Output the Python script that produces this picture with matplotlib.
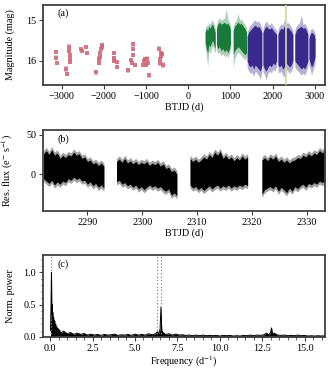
import numpy as np
import matplotlib
matplotlib.use("Agg")
import matplotlib.pyplot as plt
from matplotlib.ticker import AutoMinorLocator, MultipleLocator

plt.rcParams['font.family'] = ['Liberation Serif', 'DejaVu Serif']
plt.rcParams['mathtext.fontset'] = 'stix'
plt.rcParams['font.size'] = 7.3

# --- DATA ---
# (a) sparse archival photometry (BTJD, mag, err)
red_t = [-3130, -3125, -3120, -2885, -2875, -2825, -2818, -2812, -2806, -2800,
         -2530, -2520, -2415, -2405, -2195, -2120, -2110, -2100, -2080, -2060,
         -2045, -2035, -1765, -1758, -1752, -1685, -1680, -1420, -1350, -1330,
         -1315, -1305, -1300, -1270, -1060, -1045, -1025, -1000, -965, -945,
         -925, -685, -672, -660, -648, -635, -620, -608]
red_mag = [15.78, 15.92, 16.05, 16.2, 16.32, 15.65, 15.75, 15.85, 15.95, 16.02,
           15.7, 15.75, 15.66, 15.8, 16.28, 15.95, 16.05, 15.9, 15.8, 15.7,
           15.65, 15.6, 15.8, 15.92, 16.0, 16.02, 16.15, 16.23, 15.98, 16.05,
           15.58, 15.7, 15.85, 16.1, 16.1, 16.0, 15.95, 16.1, 15.95, 16.05,
           16.35, 15.7, 15.95, 16.05, 15.8, 15.88, 15.82, 16.1]
red_err = [0.05, 0.06, 0.05, 0.07, 0.06, 0.06, 0.05, 0.05, 0.06, 0.05,
           0.05, 0.05, 0.06, 0.05, 0.06, 0.06, 0.05, 0.05, 0.05, 0.05,
           0.05, 0.05, 0.05, 0.05, 0.06, 0.05, 0.06, 0.06, 0.05, 0.06,
           0.05, 0.06, 0.05, 0.06, 0.06, 0.05, 0.05, 0.06, 0.06, 0.05,
           0.06, 0.06, 0.05, 0.07, 0.05, 0.06, 0.05, 0.07]

# (a) dense survey seasons, read as envelopes: core range (lo/hi), full range (elo/ehi)
green_t = [[400, 430, 460, 490, 520, 550, 580, 610, 640],
           [670, 700, 740, 780, 820, 860, 900, 940, 980, 1000],
           [1065, 1100, 1140, 1180, 1220, 1260, 1300, 1340, 1380]]
green_lo = [[15.3, 15.2, 15.25, 15.15, 15.2, 15.12, 15.1, 15.2, 15.3],
            [15.2, 15.1, 15.05, 15.1, 15.08, 15.05, 15.1, 15.08, 15.15, 15.25],
            [15.25, 15.15, 15.1, 15.05, 15.1, 15.08, 15.15, 15.2, 15.3]]
green_hi = [[15.55, 15.7, 15.8, 15.6, 15.65, 15.55, 15.5, 15.6, 15.7],
            [15.6, 15.7, 15.65, 15.75, 15.7, 15.78, 15.72, 15.8, 15.7, 15.6],
            [15.85, 15.75, 15.7, 15.65, 15.7, 15.75, 15.8, 15.85, 15.8]]
green_elo = [[15.22, 15.12, 15.15, 15.05, 15.1, 15.02, 15.0, 15.1, 15.2],
             [15.1, 15.0, 14.95, 15.0, 14.98, 14.95, 14.72, 14.98, 15.05, 15.15],
             [15.15, 15.05, 15.0, 14.84, 15.0, 14.98, 15.05, 15.1, 15.2]]
green_ehi = [[15.65, 15.85, 16.14, 15.75, 15.8, 15.7, 15.62, 15.75, 15.8],
             [15.72, 15.82, 15.78, 15.88, 15.82, 15.9, 15.85, 15.92, 15.8, 15.7],
             [16.17, 15.95, 15.85, 15.78, 15.82, 15.88, 15.92, 15.97, 15.9]]

blue_t = [[1395, 1430, 1470, 1510, 1550, 1590, 1630, 1670, 1710, 1745],
          [1770, 1810, 1850, 1890, 1930, 1970, 2010, 2050, 2095],
          [2125, 2160, 2200, 2240, 2280, 2320, 2360, 2400, 2440, 2480],
          [2525, 2560, 2600, 2640, 2680, 2720, 2760, 2800, 2835],
          [2860, 2890, 2920, 2950, 2980, 3005]]
blue_lo = [[15.4, 15.3, 15.25, 15.2, 15.15, 15.12, 15.18, 15.15, 15.22, 15.3],
           [15.3, 15.2, 15.15, 15.2, 15.22, 15.18, 15.25, 15.3, 15.35],
           [15.35, 15.25, 15.2, 15.22, 15.15, 15.2, 15.18, 15.22, 15.28, 15.35],
           [15.35, 15.25, 15.2, 15.18, 15.15, 15.2, 15.18, 15.25, 15.35],
           [15.45, 15.35, 15.3, 15.32, 15.35, 15.45]]
blue_hi = [[16.0, 16.1, 16.15, 16.1, 16.2, 16.1, 16.15, 16.2, 16.25, 16.1],
           [16.1, 16.2, 16.25, 16.15, 16.1, 16.15, 16.05, 16.1, 16.0],
           [16.1, 16.15, 16.1, 16.2, 16.15, 16.05, 16.1, 16.15, 16.1, 16.0],
           [16.0, 16.05, 16.1, 16.15, 16.2, 16.15, 16.2, 16.1, 16.0],
           [15.95, 16.05, 16.15, 16.1, 16.0, 15.9]]
blue_elo = [[15.3, 15.2, 15.12, 15.08, 15.02, 15.0, 15.05, 15.02, 15.1, 15.2],
            [15.2, 15.08, 15.02, 15.1, 15.12, 15.06, 15.15, 15.2, 15.25],
            [15.25, 15.15, 15.1, 15.12, 14.98, 15.08, 15.06, 15.1, 15.18, 15.25],
            [15.25, 15.15, 15.1, 15.05, 14.88, 15.1, 15.08, 15.15, 15.25],
            [15.35, 15.25, 15.2, 15.22, 15.25, 15.35]]
blue_ehi = [[16.15, 16.25, 16.3, 16.28, 16.38, 16.25, 16.3, 16.36, 16.45, 16.25],
            [16.25, 16.35, 16.46, 16.3, 16.25, 16.3, 16.2, 16.25, 16.15],
            [16.25, 16.3, 16.25, 16.35, 16.4, 16.2, 16.25, 16.3, 16.25, 16.15],
            [16.15, 16.2, 16.25, 16.3, 16.35, 16.3, 16.35, 16.25, 16.15],
            [16.1, 16.2, 16.35, 16.25, 16.15, 16.05]]

# (b) TESS residual flux envelopes per segment
seg_t = [[2282.0, 2282.5, 2283.0, 2283.5, 2284.0, 2284.5, 2285.0, 2285.5, 2286.0, 2286.5,
          2287.0, 2287.5, 2288.0, 2288.5, 2289.0, 2289.5, 2290.0, 2290.5, 2291.0, 2291.5,
          2292.0, 2292.5, 2293.0],
         [2295.3, 2295.8, 2296.3, 2296.8, 2297.3, 2297.8, 2298.3, 2298.8, 2299.3, 2299.8,
          2300.3, 2300.8, 2301.3, 2301.8, 2302.3, 2302.8, 2303.3, 2303.8, 2304.3, 2304.8,
          2305.3, 2305.8, 2306.3],
         [2308.7, 2309.2, 2309.7, 2310.2, 2310.7, 2311.2, 2311.7, 2312.2, 2312.7, 2313.2,
          2313.7, 2314.2, 2314.7, 2315.2, 2315.7, 2316.2, 2316.7, 2317.2, 2317.7, 2318.2,
          2318.7, 2319.2],
         [2321.8, 2322.3, 2322.8, 2323.3, 2323.8, 2324.3, 2324.8, 2325.3, 2325.8, 2326.3,
          2326.8, 2327.3, 2327.8, 2328.3, 2328.8, 2329.3, 2329.8, 2330.3, 2330.8, 2331.3,
          2331.8, 2332.3, 2332.8, 2333.3]]
seg_hi = [[26, 30, 25, 31, 24, 27, 20, 24, 21, 25, 23, 28, 24, 26, 20, 22, 16, 18, 13, 15,
           11, 14, 10],
          [16, 19, 15, 20, 14, 17, 13, 16, 12, 15, 13, 16, 11, 14, 12, 15, 10, 13, 7, 9,
           3, 5, 0],
          [20, 16, 19, 15, 18, 22, 19, 25, 21, 28, 24, 29, 20, 24, 19, 22, 17, 21, 18, 23,
           19, 22],
          [18, 21, 17, 22, 19, 23, 16, 19, 15, 18, 14, 17, 18, 21, 20, 24, 22, 26, 23, 27,
           25, 30, 27, 31]]
seg_lo = [[-6, -9, -12, -8, -14, -10, -13, -9, -11, -6, -8, -4, -7, -5, -9, -8, -13, -10,
           -15, -12, -17, -14, -18],
          [-10, -8, -13, -11, -15, -13, -17, -14, -19, -16, -20, -17, -14, -17, -15, -18,
           -16, -20, -22, -19, -27, -24, -28],
          [-14, -18, -16, -20, -17, -21, -18, -15, -19, -16, -14, -18, -15, -17, -14, -18,
           -15, -17, -14, -16, -13, -15],
          [-26, -20, -18, -16, -19, -15, -22, -17, -20, -24, -18, -22, -16, -19, -15, -13,
           -17, -12, -14, -11, -13, -9, -11, -8]]

# (c) normalised periodogram
freq = [0.02, 0.05, 0.08, 0.1, 0.12, 0.14, 0.16, 0.18, 0.21, 0.24, 0.27, 0.3, 0.33,
        0.36, 0.4, 0.44, 0.48, 0.52, 0.56, 0.6, 0.8, 1.0, 1.2, 1.4, 1.6, 1.8, 2.0,
        2.2, 2.4, 2.6, 2.8, 3.0, 3.2, 3.4, 3.6, 3.8, 4.0, 4.2, 4.4, 4.6, 4.8, 5.0,
        5.2, 5.4, 5.6, 5.8, 6.0, 6.2, 6.32, 6.4, 6.48, 6.53, 6.58, 6.65, 6.8, 7.0,
        7.2, 7.4, 7.6, 7.8, 8.0, 8.2, 8.4, 8.6, 8.8, 9.0, 9.2, 9.4, 9.6, 9.8, 10.0,
        10.2, 10.4, 10.6, 10.8, 11.0, 11.2, 11.4, 11.6, 11.8, 12.0, 12.2, 12.4,
        12.6, 12.75, 12.9, 13.0, 13.05, 13.1, 13.2, 13.4, 13.6, 13.8, 14.0, 14.2,
        14.4, 14.6, 14.8, 15.0, 15.2, 15.4, 15.6, 15.8, 16.0, 16.2]
power = [0.1, 0.45, 1.0, 0.35, 0.5, 0.25, 0.38, 0.2, 0.3, 0.15, 0.25, 0.12, 0.2,
         0.1, 0.16, 0.08, 0.13, 0.07, 0.11, 0.06, 0.09, 0.05, 0.07, 0.04, 0.06,
         0.04, 0.055, 0.03, 0.045, 0.03, 0.04, 0.025, 0.04, 0.03, 0.035, 0.045,
         0.025, 0.035, 0.03, 0.04, 0.025, 0.045, 0.03, 0.04, 0.03, 0.05, 0.035,
         0.05, 0.08, 0.05, 0.12, 0.46, 0.1, 0.07, 0.04, 0.05, 0.03, 0.045, 0.03,
         0.035, 0.025, 0.03, 0.02, 0.03, 0.02, 0.03, 0.02, 0.025, 0.02, 0.025,
         0.015, 0.025, 0.02, 0.025, 0.015, 0.02, 0.015, 0.025, 0.02, 0.03, 0.02,
         0.03, 0.025, 0.035, 0.06, 0.03, 0.08, 0.14, 0.05, 0.06, 0.03, 0.025, 0.03,
         0.02, 0.025, 0.02, 0.03, 0.02, 0.025, 0.015, 0.02, 0.015, 0.02, 0.015, 0.02]
peak_freqs = [0.08, 6.32, 6.55]

RED = '#CC6677'
GREEN = '#117733'
BLUE = '#332288'
SPINE = '#404040'

fig = plt.figure(figsize=(3.3, 3.81), dpi=100)
ax1 = fig.add_axes([43/330, 1 - 85/381, 282/330, 80/381])
ax2 = fig.add_axes([43/330, 1 - 211/381, 282/330, 81/381])
ax3 = fig.add_axes([43/330, 1 - 337/381, 282/330, 82/381])

for ax in (ax1, ax2, ax3):
    for s in ax.spines.values():
        s.set_color(SPINE)
        s.set_linewidth(1.3)
    ax.tick_params(direction='out', length=3, width=0.8, color=SPINE, pad=2)

# --- panel (a) ---
ax1.errorbar(red_t, red_mag, yerr=red_err, fmt='none', ecolor=RED,
             elinewidth=2.6, alpha=0.45, capsize=0)
ax1.plot(red_t, red_mag, 's', ms=2.3, color=RED, alpha=0.8, mew=0)
for ts, lo, hi, elo, ehi in zip(green_t, green_lo, green_hi, green_elo, green_ehi):
    ax1.fill_between(ts, elo, ehi, color=GREEN, alpha=0.35, lw=0)
    ax1.fill_between(ts, lo, hi, color=GREEN, alpha=0.95, lw=0)
for ts, lo, hi, elo, ehi in zip(blue_t, blue_lo, blue_hi, blue_elo, blue_ehi):
    ax1.fill_between(ts, elo, ehi, color=BLUE, alpha=0.35, lw=0)
    ax1.fill_between(ts, lo, hi, color=BLUE, alpha=0.95, lw=0)
ax1.axvspan(seg_t[0][0], seg_t[-1][-1], color='#D2D8A0', alpha=0.85, lw=0, zorder=3)
ax1.set_xlim(-3440, 3240)
ax1.set_ylim(16.59, 14.63)
ax1.set_yticks([15, 16])
ax1.set_xticks([-3000, -2000, -1000, 0, 1000, 2000, 3000])
ax1.set_xticklabels(['\u22123000', '\u22122000', '\u22121000', '0', '1000', '2000', '3000'])
ax1.set_xlabel('BTJD (d)', labelpad=1)
ax1.set_ylabel('Magnitude (mag)')
ax1.text(0.05, 0.86, '(a)', transform=ax1.transAxes)

# --- panel (b) ---
for ts, lo, hi in zip(seg_t, seg_lo, seg_hi):
    lo = np.array(lo)
    hi = np.array(hi)
    ax2.fill_between(ts, lo - 4, hi + 4, color='#a0a0a0', lw=0)
    ax2.fill_between(ts, lo, hi, color='black', lw=0)
ax2.set_xlim(2281.9, 2333.3)
ax2.set_ylim(-47.4, 56.4)
ax2.set_yticks([0, 50])
ax2.set_xticks([2290, 2300, 2310, 2320, 2330])
ax2.set_xlabel('BTJD (d)', labelpad=1)
ax2.set_ylabel('Res. flux (e$^{-}$ s$^{-1}$)')
ax2.text(0.05, 0.86, '(b)', transform=ax2.transAxes)

# --- panel (c) ---
for f in peak_freqs:
    ax3.axvline(f, color='#8080e0', ls=':', lw=0.9)
ax3.fill_between(freq, 0, power, color='black', lw=0)
ax3.plot(freq, power, color='black', lw=0.7)
ax3.set_xlim(-0.42, 16.2)
ax3.set_ylim(0, 1.27)
ax3.set_yticks([0.0, 0.5, 1.0])
ax3.xaxis.set_major_locator(MultipleLocator(2.5))
ax3.xaxis.set_minor_locator(AutoMinorLocator(5))
ax3.yaxis.set_minor_locator(AutoMinorLocator(5))
ax3.tick_params(which='minor', direction='out', length=1.8, width=0.6, color=SPINE)
ax3.set_xlabel('Frequency (d$^{-1}$)', labelpad=1)
ax3.set_ylabel('Norm. power')
ax3.text(0.05, 0.86, '(c)', transform=ax3.transAxes)

for ax in (ax1, ax2, ax3):
    ax.yaxis.set_label_coords(-0.1, 0.5)

fig.savefig('out.png', dpi=100)
